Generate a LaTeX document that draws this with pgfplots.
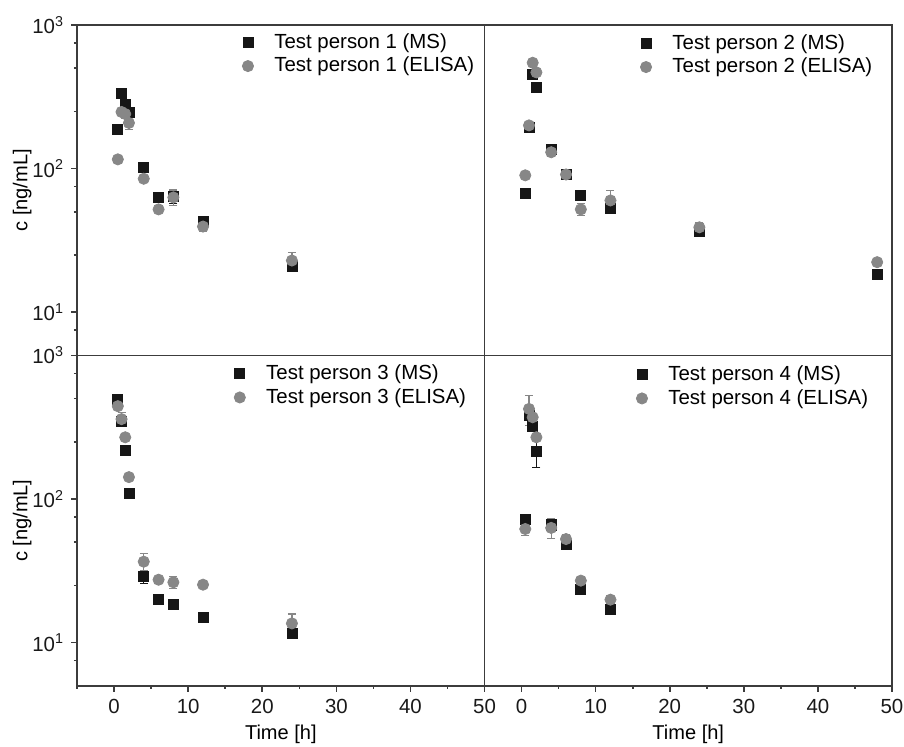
\documentclass[border=0pt]{standalone}
\usepackage{fontspec}
\setmainfont{Liberation Sans}
\usepackage{pgfplots}
\pgfplotsset{compat=1.18}
\usepgfplotslibrary{groupplots}
\usetikzlibrary{calc}
\definecolor{axgray}{RGB}{60,60,60}
\definecolor{msblack}{RGB}{22,22,22}
\definecolor{elgray}{RGB}{135,135,135}

\pgfplotsset{
  panel/.style={
    scale only axis, width=203.5pt, height=165pt,
    xmin=-5, xmax=50, ymode=log, ymin=5, ymax=1000,
    axis line style={axgray, line width=0.9pt},
    tick align=outside, xtick pos=bottom, ytick pos=left,
    major tick length=3pt, minor tick length=1.6pt,
    every tick/.style={axgray, line width=0.8pt},
    tick label style={font=\fontsize{10.2}{12}\selectfont, text=black!90},
    label style={font=\fontsize{10.2}{12}\selectfont, text=black!90},
    /pgf/number format/assume math mode=true,
    legend cell align=left,
    legend image code/.code={
      \path (-3pt,0pt) (12.5pt,0pt);
      \draw[##1] plot coordinates {(0pt,0pt)};
    },
    legend style={draw=none, fill=none, font=\fontsize{10.2}{12}\selectfont,
                  anchor=north east, row sep=2pt, inner sep=0pt,
                  nodes={inner sep=0.5pt}},
  },
  leftcol/.style={
    ytick={10,100,1000},
    yticklabels={10\textsuperscript{1},10\textsuperscript{2},10\textsuperscript{3}},
    minor ytick={7.5,25,50,75,250,500,750},
    ylabel={c [ng/mL]},
    every axis y label/.style={at={(axis description cs:-0.135,0.5)}, rotate=90, anchor=center},
  },
  rightcol/.style={ytick=\empty},
  toprow/.style={xtick=\empty},
  botrow/.style={
    xtick={0,10,20,30,40,50},
    minor xtick={-5,5,15,25,35,45},
    xlabel={Time [h]},
    every axis x label/.style={at={(axis description cs:0.5,-0.148)}, anchor=center},
  },
  ms/.style={only marks, mark=square*, mark size=2.5pt, color=msblack,
    mark options={draw=msblack, fill=msblack},
    error bars/y dir=both, error bars/y explicit,
    error bars/error bar style={msblack, line width=0.6pt},
    error bars/error mark options={msblack, mark size=2pt, line width=0.6pt, rotate=90}},
  el/.style={only marks, mark=*, mark size=2.8pt, color=elgray,
    mark options={draw=elgray, fill=elgray},
    error bars/y dir=both, error bars/y explicit,
    error bars/error bar style={elgray, line width=0.6pt},
    error bars/error mark options={elgray, mark size=2pt, line width=0.6pt, rotate=90}},
}

\begin{document}
\begin{tikzpicture}
\begin{groupplot}[
  group style={group size=2 by 2, horizontal sep=0pt, vertical sep=0pt},
  panel,
]
% person 1
\nextgroupplot[leftcol, toprow, legend style={at={(0.978,0.979)}}]
\addplot[ms] coordinates {
  (0.5,187) (1,334) (1.5,280) (2,245) (4,102) (6,63)
  (8,64) +- (0,7) (12,43) +- (0,2) (24,21) +- (0,1.5)
};
\addlegendentry{Test person 1 (MS)}
\addplot[el] coordinates {
  (0.5,116) +- (0,7) (1,248) (1.5,240) +- (0,15) (2,208) +- (0,20)
  (4,85) (6,52) (8,63) +- (0,8) (12,39.5) +- (0,3) (24,22.9) +- (0,3)
};
\addlegendentry{Test person 1 (ELISA)}

% person 2
\nextgroupplot[rightcol, toprow, legend style={at={(0.955,0.976)}}]
\addplot[ms] coordinates {
  (0.5,67.6) (1,193) +- (0,8) (1.5,455) (2,366) (4,136) +- (0,8)
  (6,91) +- (0,4) (8,65.2) (12,52.6) +- (0,4) (24,36.5) +- (0,2) (48,18.2)
};
\addlegendentry{Test person 2 (MS)}
\addplot[el] coordinates {
  (0.5,89.8) (1,200) +- (0,8) (1.5,546) (2,468) (4,130) +- (0,8)
  (6,91) +- (0,4) (8,52) +- (0,5) (12,60) +- (0,10) (24,39) +- (0,3) (48,22.3)
};
\addlegendentry{Test person 2 (ELISA)}

% person 3
\nextgroupplot[leftcol, botrow, legend style={at={(0.958,0.976)}}]
\addplot[ms] coordinates {
  (0.5,492) (1,345) +- (0,20) (1.5,219) (2,110) (4,28.8) +- (0,3)
  (6,20.1) +- (0,1.2) (8,18.4) (12,15.0) +- (0,1.2) (24,11.6) +- (0,0.6)
};
\addlegendentry{Test person 3 (MS)}
\addplot[el] coordinates {
  (0.5,443) (1,360) +- (0,40) (1.5,269) (2,142) (4,36.6) +- (0,5)
  (6,27.4) (8,26.3) +- (0,2.5) (12,25.3) (24,13.6) +- (0,2.2)
};
\addlegendentry{Test person 3 (ELISA)}

% person 4
\nextgroupplot[rightcol, botrow, legend style={at={(0.945,0.973)}}]
\addplot[ms] coordinates {
  (0.5,72.6) (1,380) +- (0,30) (1.5,319) (2,214) +- (0,48) (4,66) +- (0,4)
  (6,48.1) +- (0,3) (8,23.6) +- (0,1.5) (12,16.9)
};
\addlegendentry{Test person 4 (MS)}
\addplot[el] coordinates {
  (0.5,61.8) +- (0,6) (1,424) +- (0,100) (1.5,371) +- (0,25) (2,269)
  (4,62.9) +- (0,10) (6,52.6) +- (0,4) (8,27) +- (0,2) (12,19.9) +- (0,1.5)
};
\addlegendentry{Test person 4 (ELISA)}
\end{groupplot}
\pgfresetboundingbox
\path[use as bounding box] ($(group c1r2.south west)+(-38.5pt,-30.5pt)$)
  rectangle ($(group c2r1.north east)+(6pt,12.5pt)$);
\end{tikzpicture}
\end{document}
